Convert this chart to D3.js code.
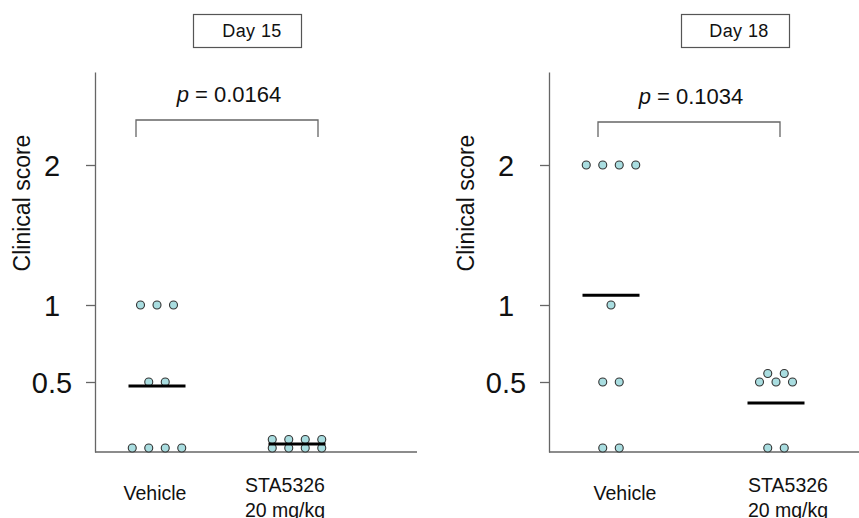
<!DOCTYPE html>
<html><head><meta charset="utf-8">
<script src="https://cdn.jsdelivr.net/npm/d3@7"></script>
<style>body{margin:0;background:#fff}svg{display:block}text{font-family:"Liberation Sans",Arial,sans-serif;fill:#111}</style>
</head><body><svg id="c" width="859" height="518"></svg>
<script>
// ---- data ----
const categories = ["Vehicle", "STA5326\n20 mg/kg"];
const panelTitles = ["Day 15", "Day 18"];
const pValues = ["0.0164", "0.1034"];
const day15Vehicle = [0, 0, 0, 0, 0.5, 0.5, 1, 1, 1];
const day15STA = [0, 0, 0, 0, 0, 0, 0, 0];
const day18Vehicle = [0, 0, 0.5, 0.5, 1, 2, 2, 2, 2];
const day18STA = [0, 0, 0.5, 0.5, 0.5, 0.5, 0.5];
const day15Lines = [0.47, 0.03];
const day18Lines = [1.07, 0.34];
const yTicks = [0.5, 1, 2];
const yTickLabels = ["0.5", "1", "2"];

// ---- layout ----
const svg = d3.select("#c");
const y = d3.scaleLinear().domain([-0.03, 0, 0.5, 1, 2, 2.66]).range([452, 448, 382, 305, 165, 72]);
const panels = [
  {title: panelTitles[0], p: pValues[0], groups: [day15Vehicle, day15STA], lines: day15Lines,
   ax: 95, right: 417, xs: [157, 297], lab: [155, 285], box: [193, 14, 108, 33], titleX: 252, pX: 229, pY: 102,
   br: [136, 318, 120, 137], yTitleX: 30},
  {title: panelTitles[1], p: pValues[1], groups: [day18Vehicle, day18STA], lines: day18Lines,
   ax: 549, right: 860, xs: [611, 776], lab: [625, 788], box: [681, 14, 108, 33], titleX: 739, pX: 691, pY: 104,
   br: [598, 780, 122, 137], yTitleX: 474}
];
const step = 16.5, rowUp = 8.5;

function swarm(vals) {
  const byV = d3.group(vals, v => v);
  const out = [];
  for (const [v, arr] of byV) {
    const n = arr.length;
    const rows = n > 4 ? [Math.ceil(n / 2), Math.floor(n / 2)] : [n];
    rows.forEach((cnt, r) => {
      for (let i = 0; i < cnt; i++) out.push({v, dx: (i - (cnt - 1) / 2) * step, dy: -r * rowUp});
    });
  }
  return out;
}

panels.forEach(P => {
  const g = svg.append("g");
  const x = d3.scaleOrdinal().domain(categories).range(P.xs);
  // title box
  g.append("rect").attr("x", P.box[0] + 0.5).attr("y", P.box[1] + 0.5).attr("width", P.box[2]).attr("height", P.box[3])
    .attr("fill", "#fff").attr("stroke", "#555").attr("stroke-width", 1.2);
  g.append("text").attr("x", P.titleX).attr("y", 37).attr("text-anchor", "middle")
    .style("font-size", "18px").style("letter-spacing", "0.4px").text(P.title);
  // y axis
  const ya = g.append("g").attr("transform", `translate(${P.ax},0)`)
    .call(d3.axisLeft(y).tickValues(yTicks).tickSize(9).tickSizeOuter(0).tickFormat((d, i) => yTickLabels[i]));
  ya.select(".domain").attr("stroke", "#666").attr("stroke-width", 1.3);
  ya.selectAll(".tick line").attr("stroke", "#666").attr("stroke-width", 1.3);
  ya.selectAll(".tick text").attr("x", -43).attr("text-anchor", "middle").attr("dy", "0.36em")
    .style("font-size", "29px").style("font-family", "'Liberation Sans',Arial,sans-serif").attr("fill", "#111");
  // x axis line
  g.append("line").attr("x1", P.ax).attr("x2", P.right).attr("y1", y(-0.03)).attr("y2", y(-0.03))
    .attr("stroke", "#666").attr("stroke-width", 1.3);
  // y title
  g.append("text").attr("transform", `translate(${P.yTitleX},203) rotate(-90)`).attr("text-anchor", "middle")
    .style("font-size", "23px").text("Clinical score");
  // bracket + p
  g.append("path").attr("d", `M${P.br[0]},${P.br[3]}V${P.br[2]}H${P.br[1]}V${P.br[3]}`)
    .attr("fill", "none").attr("stroke", "#666").attr("stroke-width", 1.3);
  const pt = g.append("text").attr("x", P.pX).attr("y", P.pY).attr("text-anchor", "middle").style("font-size", "22px");
  pt.append("tspan").style("font-style", "italic").text("p");
  pt.append("tspan").text(" = " + P.p);
  // dots
  P.groups.forEach((vals, gi) => {
    const cx = x(categories[gi]);
    g.selectAll(null).data(swarm(vals)).join("circle")
      .attr("cx", d => cx + d.dx).attr("cy", d => y(d.v) + d.dy).attr("r", 4)
      .attr("fill", "#a9dde0").attr("stroke", "#333").attr("stroke-width", 1.1);
  });
  // mean lines
  P.lines.forEach((v, gi) => {
    const cx = x(categories[gi]);
    g.append("line").attr("x1", cx - 28.5).attr("x2", cx + 28.5).attr("y1", y(v)).attr("y2", y(v))
      .attr("stroke", "#000").attr("stroke-width", 3);
  });
  // category labels
  categories.forEach((c, gi) => {
    const t = g.append("text").attr("text-anchor", "middle").style("font-size", "19.5px");
    c.split("\n").forEach((s, li) => {
      t.append("tspan").attr("x", P.lab[gi]).attr("y", (li === 0 && gi === 0 ? 500 : 492) + li * 25).text(s);
    });
  });
});
</script></body></html>
